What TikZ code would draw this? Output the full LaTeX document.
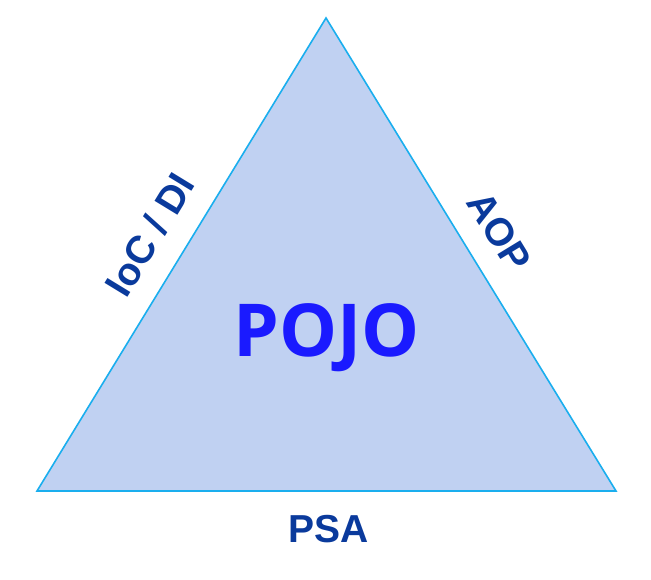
\documentclass[tikz,border=0pt]{standalone}
\usepackage{fontspec}
\setmainfont{Liberation Sans}
\newfontfamily\pojofont{Open Sans}
\usetikzlibrary{calc}
\definecolor{trifill}{HTML}{C0D1F2}
\definecolor{triline}{HTML}{1AAEEE}
\definecolor{lbl}{HTML}{0A3A9C}
\definecolor{pojo}{HTML}{1A1AFF}
\begin{document}
\begin{tikzpicture}[x=1pt,y=1pt,
  sidelabel/.style={font=\fontsize{39}{39}\selectfont\bfseries, text=lbl, inner sep=0pt, anchor=base},
  center/.style={font=\pojofont\fontsize{73}{73}\selectfont\bfseries, text=pojo, inner sep=0pt, anchor=base}]
\useasboundingbox (0,0) rectangle (651,580);
\coordinate (T) at (326,562);
\coordinate (L) at (37,89);
\coordinate (R) at (616,89);
\draw[triline, fill=trifill, line width=1.6pt, line join=miter] (L) -- (T) -- (R) -- cycle;
\node[center] (pojo) at (326.5,223) {POJO};
\node[sidelabel, rotate=58.6] (ioc) at (161.5,338) {IoC / DI};
\node[sidelabel, rotate=-58.6] (aop) at (488,341) {AOP};
\node[sidelabel] (psa) at (329,37) {PSA};
\end{tikzpicture}
\end{document}
